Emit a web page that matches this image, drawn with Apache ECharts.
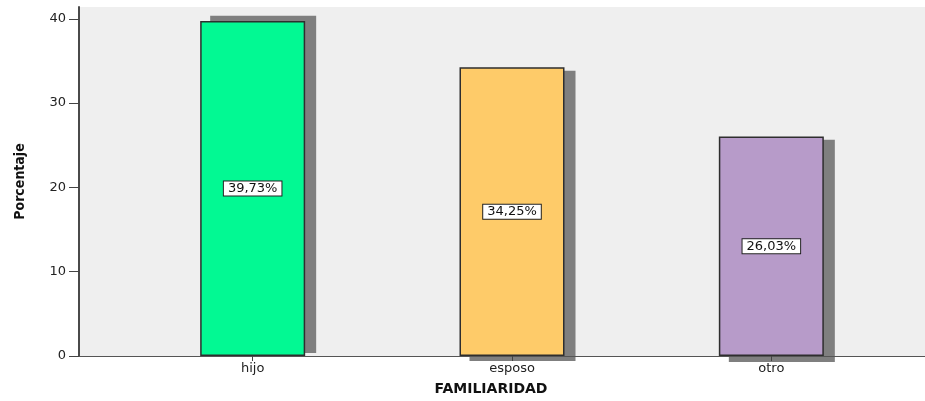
<!DOCTYPE html>
<html>
<head>
<meta charset="utf-8">
<script src="https://cdn.jsdelivr.net/npm/echarts@6/dist/echarts.min.js"></script>
<style>
  html, body { margin: 0; padding: 0; background: #ffffff; }
  #chart { width: 925px; height: 401px; }
</style>
</head>
<body>
<div id="chart"></div>
<script>
// Distribución por familiaridad (porcentaje)
const categories = ['hijo', 'esposo', 'otro'];
const percentages = [39.73, 34.25, 26.03];
const barColors = ['#02F993', '#FECB69', '#B79BC9'];
// Extent of the drop shadow behind each bar, in axis units
const shadowLow = [0.36, -0.6, -0.7];
const shadowHigh = [40.36, 33.83, 25.64];
const yTicks = [0, 10, 20, 30, 40];
const yMax = 41.4;

const BAR_WIDTH = 105;
const SHADOW_SHIFT = 10;
const FONT = 'DejaVu Sans';

const chart = echarts.init(document.getElementById('chart'));

const barData = percentages.map((v, i) => ({
  value: v,
  itemStyle: { color: barColors[i] }
}));
const shadowData = categories.map((c, i) => [i, shadowLow[i], shadowHigh[i]]);

chart.setOption({
  animation: false,
  grid: [
    { left: 79, right: 0, top: 7, bottom: 45, show: true, backgroundColor: '#EFEFEF', borderWidth: 0 },
    { left: 123, right: 24, top: 7, bottom: 45 }
  ],
  xAxis: [
    {
      gridIndex: 0, type: 'value', min: 0, max: 1, z: 6,
      axisLine: { show: true, onZero: false, lineStyle: { color: '#555555', width: 1 } },
      axisTick: { show: false }, axisLabel: { show: false }, splitLine: { show: false }
    },
    {
      gridIndex: 1, type: 'category', data: categories, z: 6,
      axisLine: { show: false },
      axisTick: { show: true, alignWithLabel: true, length: 5, lineStyle: { color: '#444444', width: 1 } },
      axisLabel: { margin: 6, color: '#222222', fontSize: 13, fontFamily: FONT },
      splitLine: { show: false }
    }
  ],
  yAxis: [
    {
      gridIndex: 0, type: 'value', min: 0, max: yMax, z: 6,
      name: 'Porcentaje', nameLocation: 'middle', nameGap: 52, nameRotate: 90,
      nameTextStyle: { fontFamily: '"Liberation Sans Narrow", "DejaVu Sans Condensed", sans-serif', fontWeight: 'bold', fontSize: 14, color: '#111111' },
      axisLine: { show: true, lineStyle: { color: '#4a4a4a', width: 2 } },
      axisTick: { show: true, length: 10, customValues: yTicks, lineStyle: { color: '#444444', width: 1 } },
      axisLabel: { margin: 13, customValues: yTicks, color: '#222222', fontSize: 13, fontFamily: FONT },
      splitLine: { show: false }
    },
    {
      gridIndex: 1, type: 'value', min: 0, max: yMax, show: false
    }
  ],
  series: [
    {
      type: 'custom',
      xAxisIndex: 1, yAxisIndex: 1, z: 1,
      data: shadowData,
      encode: { x: 0, y: [1, 2] },
      renderItem: function (params, api) {
        const top = api.coord([api.value(0), api.value(2)]);
        const bottom = api.coord([api.value(0), api.value(1)]);
        return {
          type: 'rect',
          shape: { x: top[0] - BAR_WIDTH / 2 + SHADOW_SHIFT, y: top[1], width: BAR_WIDTH + 1, height: bottom[1] - top[1] },
          style: { fill: '#7F7F7F' }
        };
      }
    },
    {
      type: 'bar',
      xAxisIndex: 1, yAxisIndex: 1, z: 3,
      barWidth: BAR_WIDTH,
      data: barData,
      itemStyle: { borderColor: '#2E2E2E', borderWidth: 1.5 },
      label: {
        show: true,
        position: 'inside',
        formatter: p => p.value.toFixed(2).replace('.', ',') + '%',
        color: '#111111',
        fontSize: 13,
        fontFamily: FONT,
        backgroundColor: '#FFFFFF',
        borderColor: '#222222',
        borderWidth: 1,
        padding: [1, 4, 0, 4]
      }
    }
  ],
  graphic: [
    {
      type: 'text',
      x: 491, y: 389,
      style: {
        text: 'FAMILIARIDAD',
        fill: '#111111',
        font: 'bold 14px "DejaVu Sans"',
        textAlign: 'center',
        textVerticalAlign: 'middle'
      }
    }
  ]
});
</script>
</body>
</html>
